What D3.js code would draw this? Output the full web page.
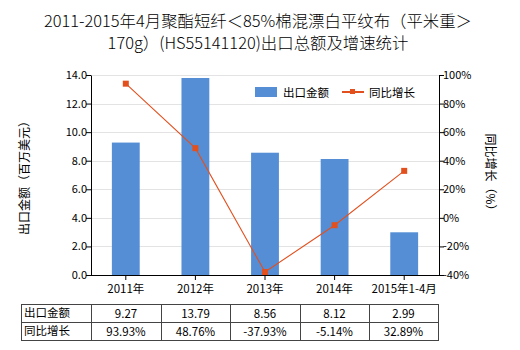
<!DOCTYPE html>
<html><head><meta charset="utf-8">
<script src="https://cdn.jsdelivr.net/npm/d3@7"></script>
<style>body{margin:0;background:#fff}svg{display:block}text{font-family:"Noto Sans CJK SC","Microsoft YaHei",sans-serif;fill:#000}</style>
</head><body><svg id="c" width="520" height="350"></svg>
<script>
const categories = ["2011年","2012年","2013年","2014年","2015年1-4月"];
const exportValues = [9.27,13.79,8.56,8.12,2.99];
const growthValues = [93.93,48.76,-37.93,-5.14,32.89];
const exportLabels = ["9.27","13.79","8.56","8.12","2.99"];
const growthLabels = ["93.93%","48.76%","-37.93%","-5.14%","32.89%"];
const leftTicks = [0,2,4,6,8,10,12,14];
const rightTicks = [-40,-20,0,20,40,60,80,100];

const svg = d3.select("#c");
const L = 91, R = 439, T = 75, B = 275;
const barColor = "#558ED5", lineColor = "#E2501E";

const x = d3.scaleBand().domain(categories).range([L,R]).paddingInner(0.6).paddingOuter(0.3);
const yL = d3.scaleLinear().domain([0,14]).range([B,T]);
const yR = d3.scaleLinear().domain([-40,100]).range([B,T]);

// title
const title = svg.append("text").attr("x",258).attr("text-anchor","middle").style("font-size","16.4px").style("font-weight","300");
title.append("tspan").attr("x",258).attr("y",27).text("2011-2015年4月聚酯短纤＜85%棉混漂白平纹布（平米重＞");
title.append("tspan").attr("x",258).attr("y",49).text("170g）(HS55141120)出口总额及增速统计");

// gridlines
svg.append("g").selectAll("line").data(leftTicks.slice(1)).join("line")
  .attr("x1",L).attr("x2",R).attr("y1",d=>Math.round(yL(d))+0.5).attr("y2",d=>Math.round(yL(d))+0.5)
  .attr("stroke","#e3e3e3").attr("stroke-width",1);

// bars
svg.append("g").selectAll("rect").data(exportValues).join("rect")
  .attr("x",(d,i)=>x(categories[i])).attr("width",x.bandwidth())
  .attr("y",d=>yL(d)).attr("height",d=>B-yL(d)).attr("fill",barColor);

// axes
const axL = svg.append("g").attr("transform",`translate(${L},0)`)
  .call(d3.axisLeft(yL).tickValues(leftTicks).tickFormat(d3.format(".1f")).tickSize(5).tickSizeOuter(0));
const axR = svg.append("g").attr("transform",`translate(${R},0)`)
  .call(d3.axisRight(yR).tickValues(rightTicks).tickFormat(d=>d+"%").tickSize(5).tickSizeOuter(0));
const axB = svg.append("g").attr("transform",`translate(0,${B})`)
  .call(d3.axisBottom(x).tickSize(5).tickSizeOuter(0));
[axL,axR,axB].forEach(g=>{
  g.selectAll("path.domain").attr("stroke","#000");
  g.selectAll(".tick line").attr("stroke","#000");
  g.selectAll("text").style("font-size","11px").style("font-family",'"Noto Sans CJK SC",sans-serif').attr("fill","#000");
});
axL.selectAll("text").attr("x",-4);
axR.selectAll("text").attr("x",4);
axB.selectAll("text").attr("y",10).style("font-size","11.5px");
axB.select("path.domain").attr("d",`M${L},0.5H${R}`);

// line
const line = d3.line().x((d,i)=>x(categories[i])+x.bandwidth()/2).y(d=>yR(d));
svg.append("path").datum(growthValues).attr("d",line).attr("fill","none").attr("stroke",lineColor).attr("stroke-width",1.1);
svg.append("g").selectAll("rect").data(growthValues).join("rect")
  .attr("x",(d,i)=>x(categories[i])+x.bandwidth()/2-3).attr("y",d=>yR(d)-3)
  .attr("width",6).attr("height",6).attr("fill",lineColor);

// axis titles
svg.append("text").attr("transform","translate(29,175) rotate(-90)").attr("text-anchor","middle")
  .style("font-size","12px").text("出口金额（百万美元）");
svg.append("text").attr("transform","translate(486,175) rotate(90)").attr("text-anchor","middle")
  .style("font-size","12px").text("同比增长（%）");

// legend
const lg = svg.append("g");
lg.append("rect").attr("x",255).attr("y",87).attr("width",22).attr("height",10).attr("fill",barColor);
lg.append("text").attr("x",283).attr("y",96.5).style("font-size","11.5px").text("出口金额");
lg.append("line").attr("x1",342).attr("x2",364).attr("y1",92).attr("y2",92).attr("stroke",lineColor).attr("stroke-width",2);
lg.append("rect").attr("x",350).attr("y",89).attr("width",5).attr("height",5).attr("fill",lineColor);
lg.append("text").attr("x",369).attr("y",96.5).style("font-size","11.5px").text("同比增长");

// table
const colX = [21,91,161,230,300,369,438];
const rowY = [304,322,340];
const tb = svg.append("g");
tb.append("rect").attr("x",colX[0]+0.5).attr("y",rowY[0]+0.5).attr("width",colX[6]-colX[0]).attr("height",rowY[2]-rowY[0])
  .attr("fill","none").attr("stroke","#444");
tb.append("line").attr("x1",colX[0]).attr("x2",colX[6]).attr("y1",rowY[1]+0.5).attr("y2",rowY[1]+0.5).attr("stroke","#444");
tb.selectAll("line.v").data(colX.slice(1,6)).join("line").attr("class","v")
  .attr("x1",d=>d+0.5).attr("x2",d=>d+0.5).attr("y1",rowY[0]).attr("y2",rowY[2]).attr("stroke","#444");
const rowNames = ["出口金额","同比增长"];
const rows = [exportLabels, growthLabels];
rows.forEach((r,ri)=>{
  tb.append("text").attr("x",colX[0]+3).attr("y",rowY[ri]+13).style("font-size","11.5px").text(rowNames[ri]);
  tb.selectAll(null).data(r).join("text").attr("x",(d,i)=>(colX[i+1]+colX[i+2])/2).attr("y",rowY[ri]+14)
    .attr("text-anchor","middle").style("font-size","11.5px").text(d=>d);
});
</script></body></html>
